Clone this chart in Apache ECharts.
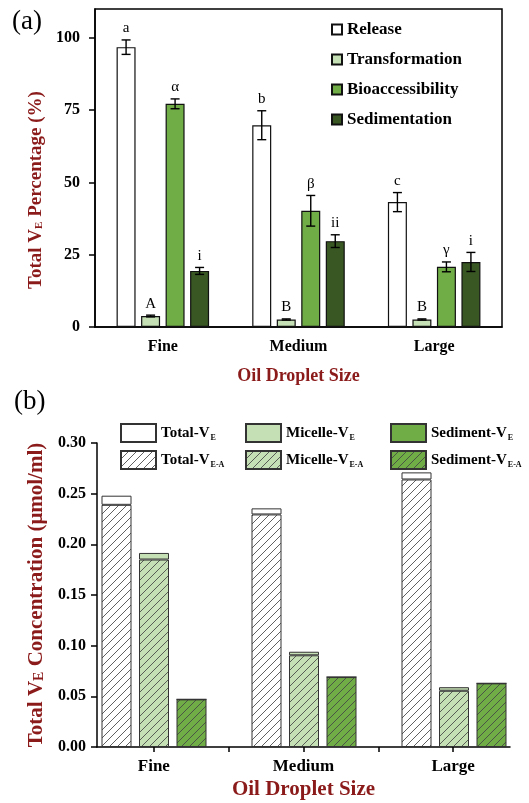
<!DOCTYPE html>
<html>
<head>
<meta charset="utf-8">
<script src="https://cdn.jsdelivr.net/npm/echarts@6/dist/echarts.min.js"></script>
<style>
  html, body { margin: 0; padding: 0; background: #fff; }
  #chart { width: 529px; height: 803px; }
</style>
</head>
<body>
<div id="chart"></div>
<script>
// ---- panel (a): % of total VE ----
const sizes = ["Fine", "Medium", "Large"];
const releaseVals = [96.8, 69.8, 43.2];
const releaseErr = [2.5, 5.0, 3.3];
const transVals = [3.8, 2.6, 2.6];
const transErr = [0.3, 0.2, 0.2];
const bioVals = [77.2, 40.2, 20.8];
const bioErr = [1.7, 5.3, 1.7];
const sedVals = [19.4, 29.7, 22.5];
const sedErr = [1.2, 2.2, 3.3];
const releaseLetters = ["a", "b", "c"];
const transLetters = ["A", "B", "B"];
const bioLetters = ["α", "β", "γ"];
const sedLetters = ["i", "ii", "i"];
const ticksA = [0, 25, 50, 75, 100];

// ---- panel (b): concentration (umol/ml) ----
const totalVE = [0.248, 0.2355, 0.271];
const totalVEA = [0.239, 0.2295, 0.264];
const micelleVE = [0.1915, 0.094, 0.059];
const micelleVEA = [0.185, 0.0905, 0.0555];
const sedimentVE = [0.047, 0.069, 0.0628];
const sedimentVEA = [0.047, 0.069, 0.0628];

const serif = '"Liberation Serif", "DejaVu Serif", serif';
const darkRed = "#8b1a1a";
const lightGreen = "#c5e0b4";
const midGreen = "#70ad47";
const darkGreen = "#385723";

function hatch(bg) {
  const n = 8;
  const c = document.createElement("canvas");
  c.width = n; c.height = n;
  const g = c.getContext("2d");
  g.fillStyle = bg;
  g.fillRect(0, 0, n, n);
  g.strokeStyle = "#444";
  g.lineWidth = 0.85;
  g.beginPath();
  g.moveTo(0, n); g.lineTo(n, 0);
  g.moveTo(-1, 1); g.lineTo(1, -1);
  g.moveTo(n - 1, n + 1); g.lineTo(n + 1, n - 1);
  g.stroke();
  return { image: c, repeat: "repeat" };
}

const groupsA = [
  { name: "Release", vals: releaseVals, err: releaseErr, letters: releaseLetters, color: "#ffffff" },
  { name: "Transformation", vals: transVals, err: transErr, letters: transLetters, color: lightGreen },
  { name: "Bioaccessibility", vals: bioVals, err: bioErr, letters: bioLetters, color: midGreen },
  { name: "Sedimentation", vals: sedVals, err: sedErr, letters: sedLetters, color: darkGreen },
];
const barWA = 19;
const stepA = 24.5;

const barSeriesA = groupsA.map((g) => ({
  name: g.name,
  type: "bar",
  xAxisIndex: 0,
  yAxisIndex: 0,
  barWidth: barWA,
  barGap: ((stepA - barWA) / barWA * 100).toFixed(0) + "%",
  barCategoryGap: "30%",
  data: g.vals,
  itemStyle: { color: g.color, borderColor: "#111", borderWidth: 1.2 },
}));

const errSeriesA = groupsA.map((g, k) => ({
  type: "custom",
  xAxisIndex: 0,
  yAxisIndex: 0,
  z: 5,
  silent: true,
  data: g.vals.map((v, i) => [i, v, g.err[i]]),
  renderItem(params, api) {
    const i = api.value(0), v = api.value(1), e = api.value(2);
    const off = (k - 1.5) * stepA;
    const top = api.coord([i, v + e]);
    const bot = api.coord([i, v - e]);
    const x = top[0] + off;
    const st = { stroke: "#000", lineWidth: 1.4 };
    return {
      type: "group",
      children: [
        { type: "line", shape: { x1: x, y1: top[1], x2: x, y2: bot[1] }, style: st },
        { type: "line", shape: { x1: x - 4.5, y1: top[1], x2: x + 4.5, y2: top[1] }, style: st },
        { type: "line", shape: { x1: x - 4.5, y1: bot[1], x2: x + 4.5, y2: bot[1] }, style: st },
        {
          type: "text",
          style: {
            text: g.letters[params.dataIndex],
            x: x, y: top[1] - 4,
            align: "center", verticalAlign: "bottom",
            font: "15px " + serif, fill: "#000",
          },
        },
      ],
    };
  },
}));

// panel (b) stacks: hatched part (E-A) at the bottom, plain remainder on top
const stacksB = [
  { key: "Total", ve: totalVE, vea: totalVEA, color: "#ffffff" },
  { key: "Micelle", ve: micelleVE, vea: micelleVEA, color: lightGreen },
  { key: "Sediment", ve: sedimentVE, vea: sedimentVEA, color: midGreen },
];
const barSeriesB = [];
stacksB.forEach((s) => {
  const common = {
    type: "bar",
    xAxisIndex: 2,
    yAxisIndex: 2,
    stack: s.key,
    barWidth: 30,
    barGap: "25%",
  };
  barSeriesB.push(Object.assign({}, common, {
    name: s.key + "-V|E-A",
    data: s.vea,
    itemStyle: { color: hatch(s.color), borderColor: "#333", borderWidth: 1 },
  }));
  barSeriesB.push(Object.assign({}, common, {
    name: s.key + "-V|E",
    data: s.ve.map((v, i) => +(v - s.vea[i]).toFixed(4)),
    itemStyle: { color: s.color, borderColor: "#333", borderWidth: 1 },
  }));
});

const subRich = {
  n: { fontFamily: serif, fontWeight: "bold", fontSize: 15, color: "#000" },
  s: { fontFamily: serif, fontWeight: "bold", fontSize: 8, color: "#000", padding: [9, 0, 0, 1] },
};
function legendB(key, left) {
  return {
    orient: "vertical",
    left: left,
    top: 423,
    padding: 0,
    icon: "rect",
    itemWidth: 35,
    itemHeight: 18,
    itemGap: 7,
    selectedMode: false,
    data: [key + "-V|E", key + "-V|E-A"],
    formatter: (n) => {
      const p = n.split("|");
      return "{n|" + p[0] + "}{s|" + p[1] + "}";
    },
    textStyle: { rich: subRich },
  };
}

const chart = echarts.init(document.getElementById("chart"));
chart.setOption({
  backgroundColor: "#fff",
  animation: false,
  graphic: [
    { type: "text", left: 12, top: 8, style: { text: "(a)", font: "27px " + serif, fill: "#000" } },
    { type: "text", left: 14, top: 388, style: { text: "(b)", font: "27px " + serif, fill: "#000" } },
  ],
  legend: [
    {
      orient: "vertical",
      left: 331,
      top: 21,
      padding: 0,
      icon: "rect",
      itemWidth: 10,
      itemHeight: 10,
      itemGap: 13,
      selectedMode: false,
      data: groupsA.map((g) => g.name),
      textStyle: { fontFamily: serif, fontWeight: "bold", fontSize: 17, color: "#000", lineHeight: 17 },
    },
    legendB("Total", 120),
    legendB("Micelle", 245),
    legendB("Sediment", 390),
  ],
  grid: [
    { left: 95, right: 27, top: 9, bottom: 476, show: true, borderColor: "#000", borderWidth: 1.5, containLabel: false },
    { left: 97, right: 19, top: 443, bottom: 56, containLabel: false },
    // bar placement grid for (b): one band per droplet size, 150 px apart
    { left: 79, width: 450, top: 443, bottom: 56, containLabel: false },
  ],
  xAxis: [
    {
      gridIndex: 0,
      type: "category",
      data: sizes,
      axisLine: { lineStyle: { color: "#000", width: 1.5 } },
      axisTick: { show: false },
      axisLabel: { color: "#000", fontFamily: serif, fontWeight: "bold", fontSize: 16, margin: 12 },
      name: "Oil Droplet Size",
      nameLocation: "middle",
      nameGap: 40,
      nameTextStyle: { color: darkRed, fontFamily: serif, fontWeight: "bold", fontSize: 18 },
    },
    {
      gridIndex: 1,
      type: "value",
      min: 0.62,
      max: 3.38,
      splitLine: { show: false },
      axisLine: { show: true, lineStyle: { color: "#000", width: 1.5 } },
      axisTick: { show: true, length: 5, customValues: [1, 1.5, 2, 2.5, 3], lineStyle: { color: "#000", width: 1.5 } },
      axisLabel: {
        customValues: [1, 2, 3],
        formatter: (v) => sizes[Math.round(v) - 1],
        color: "#000", fontFamily: serif, fontWeight: "bold", fontSize: 17, margin: 11,
      },
      name: "Oil Droplet Size",
      nameLocation: "middle",
      nameGap: 32,
      nameTextStyle: { color: darkRed, fontFamily: serif, fontWeight: "bold", fontSize: 21 },
    },
    {
      gridIndex: 2,
      type: "category",
      data: sizes,
      show: false,
    },
  ],
  yAxis: [
    {
      gridIndex: 0,
      type: "value",
      min: 0,
      max: 110,
      interval: 25,
      splitLine: { show: false },
      axisLine: { show: true, lineStyle: { color: "#000", width: 1.5 } },
      axisTick: { show: true, length: 6, customValues: ticksA, lineStyle: { color: "#000", width: 1.5 } },
      axisLabel: { customValues: ticksA, color: "#000", fontFamily: serif, fontWeight: "bold", fontSize: 16, margin: 15 },
      name: "{t|Total V}{s|E}{t| Percentage (%)}",
      nameLocation: "middle",
      nameGap: 43,
      nameRotate: 90,
      nameTextStyle: {
        padding: [0, 44, 0, 0],
        rich: {
          t: { color: darkRed, fontFamily: serif, fontWeight: "bold", fontSize: 19 },
          s: { color: darkRed, fontFamily: serif, fontWeight: "bold", fontSize: 11, padding: [8, 0, 0, 0] },
        },
      },
    },
    {
      gridIndex: 1,
      type: "value",
      min: 0,
      max: 0.3,
      interval: 0.05,
      splitLine: { show: false },
      axisLine: { show: true, lineStyle: { color: "#000", width: 1.5 } },
      axisTick: { show: true, length: 6, lineStyle: { color: "#000", width: 1.5 } },
      axisLabel: { formatter: (v) => v.toFixed(2), color: "#000", fontFamily: serif, fontWeight: "bold", fontSize: 16, margin: 11 },
      name: "{t|Total V}{s|E}{t| Concentration (μmol/ml)}",
      nameLocation: "middle",
      nameGap: 49,
      nameRotate: 90,
      nameTextStyle: {
        rich: {
          t: { color: darkRed, fontFamily: serif, fontWeight: "bold", fontSize: 21 },
          s: { color: darkRed, fontFamily: serif, fontWeight: "bold", fontSize: 14, padding: [5, 0, 0, 0] },
        },
      },
    },
    {
      gridIndex: 2,
      type: "value",
      min: 0,
      max: 0.3,
      show: false,
    },
  ],
  series: barSeriesA.concat(errSeriesA, barSeriesB),
});
</script>
</body>
</html>
